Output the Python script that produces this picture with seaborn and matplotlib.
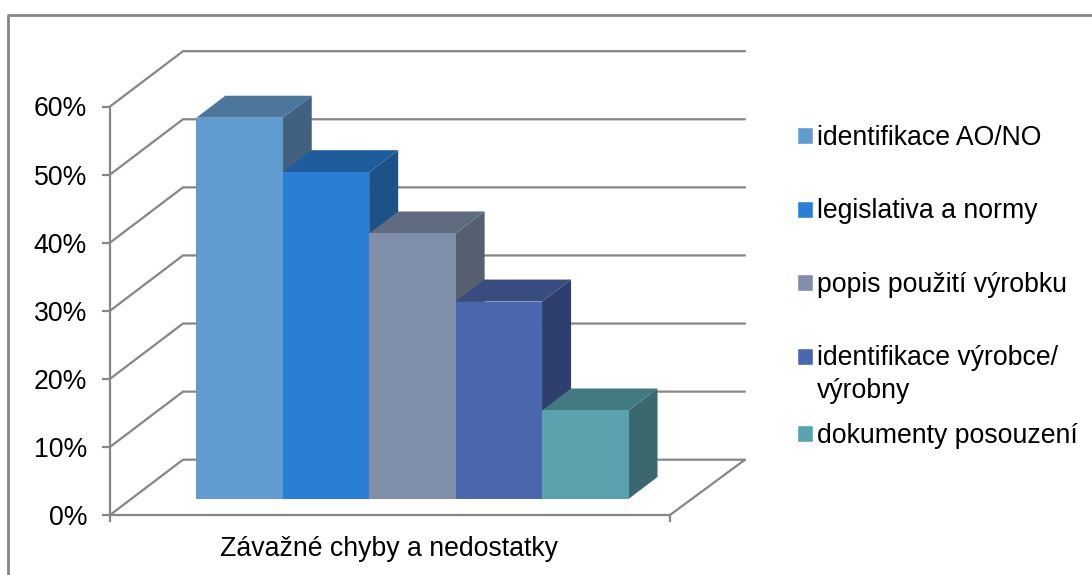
import matplotlib
matplotlib.use("Agg")
import matplotlib.pyplot as plt
import seaborn as sns
import pandas as pd
from matplotlib.lines import Line2D
from matplotlib.patches import Polygon
from matplotlib.ticker import PercentFormatter

# ---- data ----
categories = ["identifikace AO/NO", "legislativa a normy", "popis použití výrobku",
              "identifikace výrobce/\nvýrobny", "dokumenty posouzení"]
values = [56, 48, 39, 29, 13]
y_ticks = [0, 10, 20, 30, 40, 50, 60]
group_label = "Závažné chyby a nedostatky"

# ---- styles ----
front_colors = ["#619CD1", "#2A7ED6", "#7F8FA9", "#4A66AC", "#5AA2AE"]
top_colors = ["#4C769C", "#1F5C9E", "#5F6B7E", "#384C80", "#437A82"]
side_colors = ["#40617F", "#1C5288", "#565F70", "#2E3F6D", "#3B686F"]
GRAY = "#868686"
W, H = 1092, 575

sns.set_theme(style="white")
plt.rcParams["font.family"] = ["Liberation Sans", "DejaVu Sans"]
FS = 19.2
LW = 1.6


def rect(l, t, r, b):
    return [l / W, 1 - b / H, (r - l) / W, (b - t) / H]


fig = plt.figure(figsize=(W / 100, H / 100), dpi=100, facecolor="white")

# outer chart border
fig.add_artist(Line2D([8 / W, 8 / W, 1], [0, 1 - 15 / H, 1 - 15 / H],
                      transform=fig.transFigure, color=GRAY, lw=2.0))

# wall / floor axes: real axis with ticks and labels
wall = fig.add_axes(rect(110, 106.5, 670, 515))
wall.set_xlim(0, 1)
wall.set_ylim(0, 60)
wall.set_facecolor("none")
for s in ("top", "right"):
    wall.spines[s].set_visible(False)
for s in ("left", "bottom"):
    wall.spines[s].set_color(GRAY)
    wall.spines[s].set_linewidth(LW)
wall.set_yticks(y_ticks)
wall.yaxis.set_major_formatter(PercentFormatter(100, decimals=0))
wall.tick_params(axis="y", left=True, length=5.5, width=LW, color=GRAY, pad=11,
                 labelsize=FS, labelcolor="black")
wall.set_xticks([0, 1])
wall.set_xticklabels([])
wall.tick_params(axis="x", bottom=True, length=5, width=LW, color=GRAY)
wall.text(0.4985, -34 / 408.5, group_label, transform=wall.transAxes, ha="center", va="center",
          fontsize=FS, color="black")

depth_x = 73 / 560      # left wall depth in axis fractions
right_x = 1 + 75 / 560  # back right corner
depth_y = 55.3 / 6.808  # wall depth in value units
for v in y_ticks:
    wall.plot([0, depth_x, right_x], [v, v + depth_y, v + depth_y],
              color=GRAY, lw=LW, clip_on=False, solid_joinstyle="miter", zorder=1)
wall.plot([right_x, 1], [depth_y, 0], color=GRAY, lw=LW, clip_on=False, zorder=1)

# bars axes: front plane of the columns
ax = fig.add_axes(rect(196.3, 90.5, 628.5, 499))
df = pd.DataFrame({"category": categories, "value": values})
sns.barplot(data=df, x="category", y="value", hue="category", hue_order=categories,
            palette=front_colors, width=1, dodge=False, saturation=1, ax=ax, legend=True)
ax.set_xlim(-0.5, len(categories) - 0.5)
ax.set_ylim(0, 60)
handles, labels = ax.get_legend_handles_labels()
ax.get_legend().remove()
ax.set_axis_off()

bar_dx = 29 / 86.44
bar_dy = 22 / 6.808
for i, (patch, v) in enumerate(zip(ax.patches, values)):
    x0, x1 = i - 0.5, i + 0.5
    patch.set_edgecolor("none")
    patch.set_zorder(3 + 3 * i)
    ax.add_patch(Polygon([(x1, 0), (x1 + bar_dx, bar_dy), (x1 + bar_dx, v + bar_dy), (x1, v)],
                         closed=True, fc=side_colors[i], ec="none", clip_on=False, zorder=3 + 3 * i - 1))
    ax.add_patch(Polygon([(x0, v), (x0 + bar_dx, v + bar_dy), (x1 + bar_dx, v + bar_dy), (x1, v)],
                         closed=True, fc=top_colors[i], ec="none", clip_on=False, zorder=3 + 3 * i - 1))

# legend
kw = dict(frameon=False, fontsize=FS, handlelength=0.6, handleheight=0.6, handletextpad=0.14,
          borderpad=0, borderaxespad=0, labelcolor="black", loc="upper left",
          bbox_transform=fig.transFigure)
leg1 = fig.legend(handles[:4], labels[:4], bbox_to_anchor=(797 / W, 1 - 125 / H), labelspacing=1.78, **kw)
leg1.get_texts()[3].set_linespacing(1.34)
h4 = leg1.legend_handles[3]
h4.set_y(h4.get_y() + 13.5)
leg2 = fig.legend(handles[4:], labels[4:], bbox_to_anchor=(797 / W, 1 - 423 / H), **kw)

fig.savefig("out.png", dpi=100)
